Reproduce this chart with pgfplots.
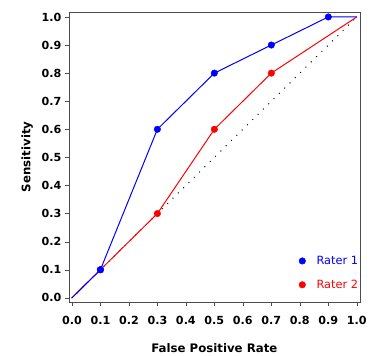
\documentclass[border=0pt]{standalone}
\usepackage{pgfplots}
\pgfplotsset{compat=1.18}
\usepackage{fontspec}
\setmainfont{DejaVu Sans}
\begin{document}
\begin{tikzpicture}
\begin{axis}[
  scale only axis,
  width=291bp, height=290bp,
  xmin=-0.0105, xmax=1.0105,
  ymin=-0.014, ymax=1.018,
  xtick={0,0.1,...,1.0}, ytick={0,0.1,...,1.0},
  xticklabel style={/pgf/number format/.cd,fixed,fixed zerofill,precision=1,assume math mode=true,/tikz/.cd,yshift=-7bp},
  yticklabel style={/pgf/number format/.cd,fixed,fixed zerofill,precision=1,assume math mode=true},
  tick label style={font=\fontsize{11.2}{13}\selectfont\bfseries},
  label style={font=\fontsize{11.8}{13}\selectfont\bfseries},
  xlabel={False Positive Rate},
  ylabel={Sensitivity},
  xlabel style={yshift=-12bp},
  ylabel style={yshift=2bp},
  tick align=outside,
  xtick pos=bottom, ytick pos=left,
  major tick length=4bp,
  axis line style={gray!60!black},
  tick style={gray!60!black},
  clip=false,
  legend style={draw=none, fill=none, at={(rel axis cs:1.012,0.027)}, anchor=south east,
    font=\fontsize{11.4}{13}\selectfont, row sep=10bp,
    /tikz/every odd column/.append style={column sep=9bp}},
  legend cell align=left,
]
\path (rel axis cs:-0.237,-0.186) rectangle (rel axis cs:1.034,1.041);
\addplot[black, line width=1.4pt, dash pattern=on 0pt off 7.5pt, line cap=round, forget plot] coordinates {(0,0) (1,1)};
\addplot[red, line width=1pt, forget plot] coordinates {(0,0) (0.1,0.1) (0.3,0.3) (0.5,0.6) (0.7,0.8) (1,1)};
\addplot[blue, line width=1pt, forget plot] coordinates {(0,0) (0.1,0.1) (0.3,0.6) (0.5,0.8) (0.7,0.9) (0.9,1.0) (1,1)};
\addplot[blue, only marks, mark=*, mark size=3.3pt] coordinates {(0.1,0.1) (0.3,0.6) (0.5,0.8) (0.7,0.9) (0.9,1.0)};
\addplot[red, only marks, mark=*, mark size=3.3pt] coordinates {(0.3,0.3) (0.5,0.6) (0.7,0.8)};
\addplot[blue, only marks, mark=*, mark size=3.3pt, forget plot] coordinates {(0.1,0.1)};
\legend{\textcolor{blue}{Rater 1},\textcolor{red}{Rater 2}}
\end{axis}
\end{tikzpicture}
\end{document}
